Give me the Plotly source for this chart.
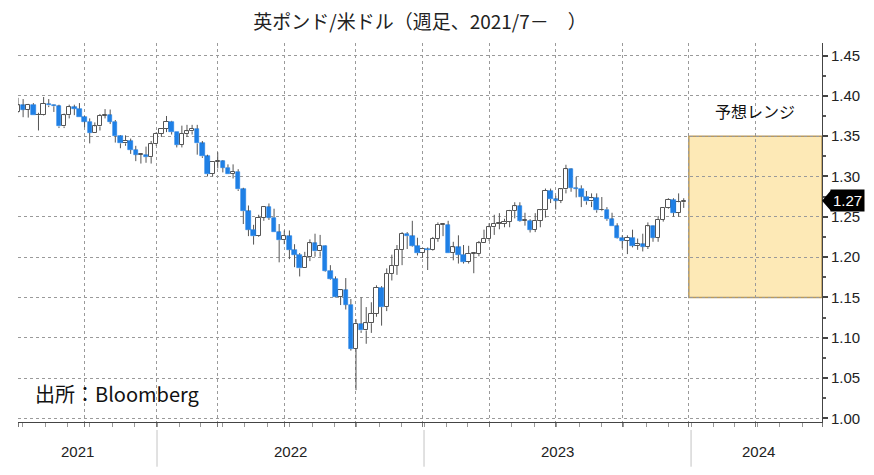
import pandas as pd
import plotly.graph_objects as go

# ---- weekly GBP/USD candles (week ending Friday) ----
week_end = pd.date_range("2021-06-25", "2023-12-22", freq="W-FRI")

open_2021 = [1.3795,1.3880,1.3830,1.3890,1.3760,1.3760,1.3900,1.3880,1.3870,1.3620,1.3760,1.3860,1.3840,1.3740,
             1.3680,1.3540,1.3620,1.3750,1.3760,1.3680,1.3500,1.3410,1.3440,1.3330,1.3270,1.3270,1.3240,1.3400]
high_2021 = [1.3975,1.3960,1.3900,1.3910,1.3790,1.3985,1.3960,1.3890,1.3890,1.3780,1.3890,1.3890,1.3910,1.3750,
             1.3720,1.3670,1.3775,1.3835,1.3830,1.3700,1.3510,1.3510,1.3470,1.3380,1.3290,1.3370,1.3440,1.3550]
low_2021 = [1.3786,1.3735,1.3730,1.3760,1.3570,1.3755,1.3860,1.3800,1.3600,1.3600,1.3720,1.3760,1.3740,1.3610,
            1.3410,1.3540,1.3570,1.3720,1.3650,1.3420,1.3350,1.3380,1.3280,1.3190,1.3160,1.3170,1.3160,1.3380]
close_2021 = [1.3880,1.3830,1.3890,1.3760,1.3760,1.3900,1.3880,1.3870,1.3620,1.3760,1.3860,1.3840,1.3740,1.3680,
              1.3540,1.3620,1.3750,1.3760,1.3680,1.3500,1.3410,1.3440,1.3330,1.3270,1.3270,1.3240,1.3400,1.3530]

open_2022 = [1.3530,1.3590,1.3680,1.3550,1.3390,1.3530,1.3560,1.3590,1.3410,1.3250,1.3030,1.3180,1.3190,1.3110,
             1.3030,1.3060,1.2840,1.2570,1.2340,1.2260,1.2490,1.2620,1.2490,1.2310,1.2210,1.2260,1.2090,1.2030,
             1.1860,1.2000,1.2170,1.2070,1.2140,1.1830,1.1730,1.1510,1.1590,1.1410,1.0860,1.1170,1.1090,1.1180,
             1.1300,1.1620,1.1380,1.1790,1.1890,1.2090,1.2290,1.2260,1.2140,1.2050]
high_2022 = [1.3600,1.3750,1.3690,1.3550,1.3630,1.3640,1.3640,1.3640,1.3440,1.3270,1.3180,1.3300,1.3200,1.3150,
             1.3150,1.3090,1.2860,1.2640,1.2400,1.2525,1.2625,1.2665,1.2600,1.2410,1.2330,1.2330,1.2160,1.2050,
             1.2065,1.2220,1.2290,1.2275,1.2145,1.1900,1.1760,1.1600,1.1740,1.1480,1.1230,1.1500,1.1380,1.1440,
             1.1650,1.1640,1.1860,1.2030,1.2150,1.2310,1.2310,1.2450,1.2240,1.2110]
low_2022 = [1.3490,1.3550,1.3520,1.3360,1.3360,1.3490,1.3520,1.3270,1.3230,1.3000,1.3000,1.3100,1.3050,1.3030,
            1.2975,1.2820,1.2410,1.2260,1.2155,1.2250,1.2450,1.2460,1.2310,1.1935,1.2160,1.1975,1.1875,1.1760,
            1.1860,1.1950,1.2005,1.2005,1.1820,1.1720,1.1500,1.1405,1.1350,1.0840,1.0350,1.1060,1.0925,1.1060,
            1.1260,1.1150,1.1330,1.1710,1.1780,1.1900,1.2100,1.2130,1.2020,1.1990]
close_2022 = [1.3590,1.3680,1.3550,1.3390,1.3530,1.3560,1.3590,1.3410,1.3250,1.3030,1.3180,1.3190,1.3110,1.3030,
              1.3060,1.2840,1.2570,1.2340,1.2260,1.2490,1.2620,1.2490,1.2310,1.2210,1.2260,1.2090,1.2030,1.1860,
              1.2000,1.2170,1.2070,1.2140,1.1830,1.1730,1.1510,1.1590,1.1410,1.0860,1.1170,1.1090,1.1180,1.1300,
              1.1620,1.1380,1.1790,1.1890,1.2090,1.2290,1.2260,1.2140,1.2050,1.2100]

open_2023 = [1.2100,1.2090,1.2230,1.2400,1.2400,1.2050,1.2120,1.2030,1.1940,1.2040,1.2040,1.2170,1.2230,1.2370,
             1.2410,1.2410,1.2440,1.2570,1.2630,1.2450,1.2450,1.2340,1.2450,1.2580,1.2820,1.2720,1.2700,1.2840,
             1.3090,1.2860,1.2850,1.2750,1.2690,1.2730,1.2580,1.2590,1.2470,1.2380,1.2240,1.2200,1.2240,1.2140,
             1.2160,1.2130,1.2380,1.2240,1.2460,1.2610,1.2710,1.2550,1.2680]
high_2023 = [1.2120,1.2250,1.2430,1.2420,1.2450,1.2190,1.2270,1.2150,1.2140,1.2050,1.2200,1.2340,1.2420,1.2525,
             1.2545,1.2475,1.2585,1.2680,1.2680,1.2550,1.2470,1.2545,1.2590,1.2850,1.2850,1.2760,1.2850,1.3145,
             1.3100,1.2995,1.2890,1.2820,1.2790,1.2790,1.2745,1.2620,1.2550,1.2420,1.2270,1.2270,1.2340,1.2230,
             1.2290,1.2430,1.2390,1.2510,1.2610,1.2730,1.2730,1.2790,1.2730]
low_2023 = [1.1840,1.2080,1.2190,1.2260,1.2050,1.1960,1.1920,1.1920,1.1920,1.1800,1.2010,1.2170,1.2200,1.2275,
            1.2345,1.2370,1.2370,1.2480,1.2440,1.2390,1.2305,1.2310,1.2370,1.2490,1.2670,1.2590,1.2670,1.2790,
            1.2810,1.2740,1.2620,1.2650,1.2620,1.2550,1.2570,1.2450,1.2380,1.2230,1.2110,1.2037,1.2120,1.2090,
            1.2070,1.2100,1.2190,1.2190,1.2440,1.2600,1.2500,1.2500,1.2610]
close_2023 = [1.2090,1.2230,1.2400,1.2400,1.2050,1.2120,1.2030,1.1940,1.2040,1.2040,1.2170,1.2230,1.2370,1.2410,
              1.2410,1.2440,1.2570,1.2630,1.2450,1.2450,1.2340,1.2450,1.2580,1.2820,1.2720,1.2700,1.2840,1.3090,
              1.2860,1.2850,1.2750,1.2690,1.2730,1.2580,1.2590,1.2470,1.2380,1.2240,1.2200,1.2240,1.2140,1.2160,
              1.2130,1.2380,1.2240,1.2460,1.2610,1.2710,1.2550,1.2680,1.2700]

# forecast range for 2024
forecast_low = 1.15
forecast_high = 1.35
forecast_start = "2023-12-29"
forecast_end = "2024-06-28"
forecast_label = "予想レンジ"

year_labels = ["2021", "2022", "2023", "2024"]
title_text = "英ポンド/米ドル（週足、2021/7－　）"
source_text = "出所：Bloomberg"

opens = open_2021 + open_2022 + open_2023
highs = high_2021 + high_2022 + high_2023
lows = low_2021 + low_2022 + low_2023
closes = close_2021 + close_2022 + close_2023
dates = list(week_end[:len(opens)])

# ---- styling ----
BLUE = "#1f80e6"
OUTLINE = "#555555"
GRID = "#9a9a9a"
DAY_MS = 86400000
body_width = 6.0 * DAY_MS
min_body = 0.0008

# page body has an 8px margin: figure is sized so the page fills 874x475
FIG_W, FIG_H = 866, 467
PLOT_W = 804

up_x, up_base, up_h = [], [], []
dn_x, dn_base, dn_h = [], [], []
wick_x, wick_y = [], []
for d, o, h, l, c in zip(dates, opens, highs, lows, closes):
    top, bot = max(o, c), min(o, c)
    size = max(top - bot, min_body)
    if c >= o:
        up_x.append(d); up_base.append(bot); up_h.append(size)
    else:
        dn_x.append(d); dn_base.append(bot); dn_h.append(size)
    wick_x += [d, d, None, d, d, None]
    wick_y += [h, top, None, bot, l, None]

fig = go.Figure()
fig.add_trace(go.Bar(x=up_x, y=up_h, base=up_base, width=[body_width] * len(up_x),
                     marker=dict(color="white", line=dict(color=OUTLINE, width=1)),
                     hoverinfo="skip"))
fig.add_trace(go.Bar(x=dn_x, y=dn_h, base=dn_base, width=[body_width] * len(dn_x),
                     marker=dict(color=BLUE, line=dict(color=BLUE, width=0.6)),
                     hoverinfo="skip"))
fig.add_trace(go.Scatter(x=wick_x, y=wick_y, mode="lines",
                         line=dict(color=OUTLINE, width=1), hoverinfo="skip",
                         connectgaps=False))

# forecast box
fig.add_shape(type="rect", xref="x", yref="y", x0=forecast_start, x1=forecast_end,
              y0=forecast_low, y1=forecast_high, layer="below",
              fillcolor="#fde9b6", line=dict(color="#b99a5c", width=1.5))
fc_mid = pd.Timestamp(forecast_start) + (pd.Timestamp(forecast_end) - pd.Timestamp(forecast_start)) / 2
fig.add_annotation(x=fc_mid, y=forecast_high, xref="x", yref="y", text=forecast_label,
                   showarrow=False, yanchor="bottom", yshift=11,
                   font=dict(family="Noto Sans CJK JP", size=16, color="#111"))

# quarter gridlines (last weekly bar of each quarter)
grid_dates = ["2021-06-25", "2021-09-24", "2021-12-31", "2022-03-25", "2022-06-24", "2022-09-30",
              "2022-12-30", "2023-03-31", "2023-06-30", "2023-09-29", "2023-12-29", "2024-03-29",
              "2024-06-28"]

# year separators and labels
for yr in year_labels[1:]:
    fig.add_shape(type="line", xref="x", yref="paper", x0=f"{yr}-01-01", x1=f"{yr}-01-01",
                  y0=-0.021, y1=-0.118, line=dict(color="#c4c4c4", width=1))
year_label_pos = ["2021-09-15", "2022-07-02", "2023-07-02", "2024-04-02"]
for yr, pos in zip(year_labels, year_label_pos):
    fig.add_annotation(x=pos, y=-0.079, xref="x", yref="paper", text=yr, showarrow=False,
                       yanchor="middle", font=dict(family="Liberation Sans", size=15, color="#222"))

# last price tag
last = closes[-1]
fig.add_shape(type="path", xref="paper", yref="y",
              path=f"M 1.0,{last} L {1 + 9 / PLOT_W},{last + 0.0128} L {1 + 9 / PLOT_W},{last - 0.0128} Z",
              fillcolor="black", line=dict(color="black", width=0))
fig.add_annotation(x=1.0, y=last, xref="paper", yref="y", text=f"{last:.2f}", showarrow=False,
                   xanchor="left", xshift=8, yanchor="middle", bgcolor="black", borderpad=2,
                   font=dict(family="Liberation Sans", size=15, color="white"))

# source
fig.add_annotation(x=0.019, y=0.0765, xref="paper", yref="paper", text=source_text, showarrow=False,
                   xanchor="left", yanchor="middle",
                   font=dict(family="Noto Sans CJK JP", size=20, color="#111"))

fig.update_layout(
    width=FIG_W, height=FIG_H,
    margin=dict(l=10, r=FIG_W - 10 - PLOT_W, t=35, b=FIG_H - 35 - 379),
    paper_bgcolor="white", plot_bgcolor="white",
    showlegend=False, barmode="overlay", bargap=0,
    font=dict(family="Liberation Sans", size=15, color="#222"),
    title=dict(text=title_text, x=0.5, xref="paper", xanchor="center",
               y=1 - 14 / FIG_H, yref="container", yanchor="middle",
               font=dict(family="Noto Sans CJK JP", size=19, color="#222")),
    xaxis=dict(type="date", range=["2021-06-25", "2024-06-28"],
               tickmode="array", tickvals=grid_dates, showticklabels=False,
               showgrid=True, gridcolor=GRID, griddash="dot", gridwidth=1,
               showline=True, linecolor="#444", linewidth=1,
               ticks="outside", ticklen=4, tickcolor="#777", zeroline=False,
               minor=dict(ticks="outside", ticklen=4, tickcolor="#999", dtick="M1",
                          tick0="2021-07-01", showgrid=False)),
    yaxis=dict(side="right", range=[0.9955, 1.4655], tick0=1.0, dtick=0.05, tickformat=".2f",
               showgrid=True, gridcolor=GRID, griddash="dot", gridwidth=1,
               showline=True, linecolor="#444", linewidth=1,
               ticks="outside", ticklen=5, tickwidth=1.5, tickcolor="#444", zeroline=False,
               tickfont=dict(family="Liberation Sans", size=15, color="#222"),
               minor=dict(ticks="outside", ticklen=3, tickcolor="#555", tick0=1.0, dtick=0.025,
                          showgrid=False)),
)

fig.write_html("out.html")
